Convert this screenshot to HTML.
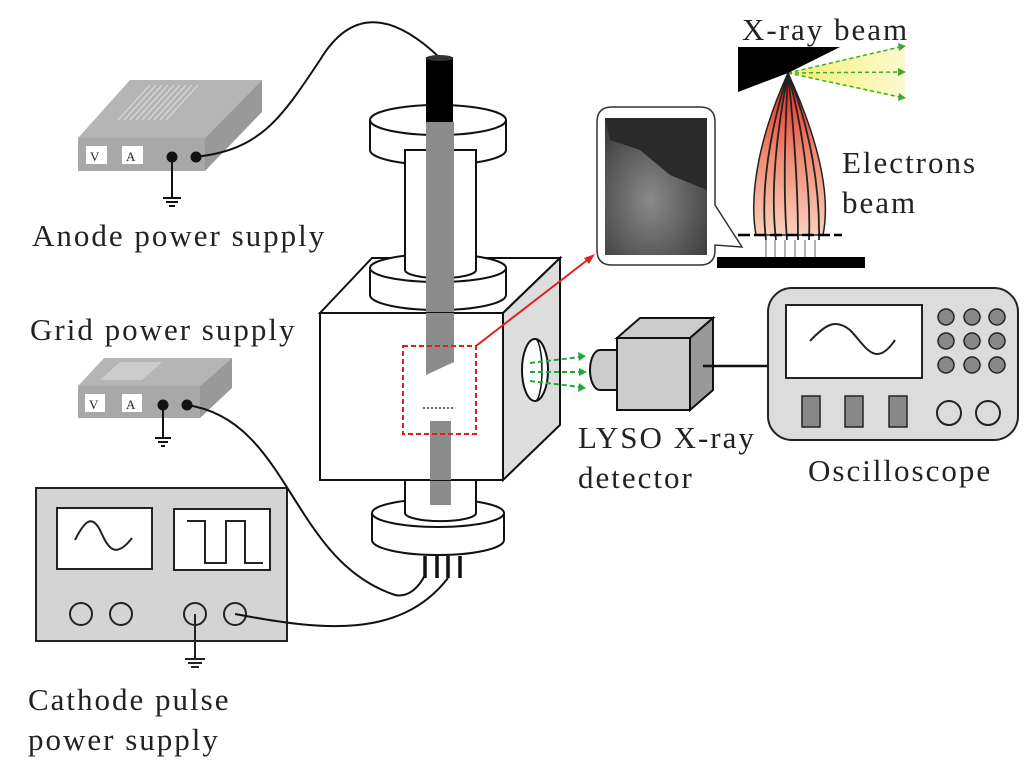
<!DOCTYPE html>
<html><head><meta charset="utf-8"><style>
html,body{margin:0;padding:0;background:#fff}
svg{display:block}
text{font-family:"Liberation Serif",serif;fill:#222}
.t{font-size:31px;letter-spacing:2px}
</style></head><body>
<svg width="1036" height="773" viewBox="0 0 1036 773" xmlns="http://www.w3.org/2000/svg">
<defs>
<linearGradient id="pl" x1="0" y1="0" x2="0" y2="1">
<stop offset="0" stop-color="#e0201a"/><stop offset="0.5" stop-color="#f08a70"/><stop offset="1" stop-color="#fbd0bd"/>
</linearGradient>
<linearGradient id="yf" x1="0" y1="0" x2="1" y2="0">
<stop offset="0" stop-color="#f4f070"/><stop offset="1" stop-color="#fbfad0"/>
</linearGradient>
<radialGradient id="sem" cx="0.45" cy="0.6" r="0.7">
<stop offset="0" stop-color="#8a8a8a"/><stop offset="0.6" stop-color="#5a5a5a"/><stop offset="1" stop-color="#3a3a3a"/>
</radialGradient>
</defs>

<!-- Anode supply -->
<polygon points="78,138 130,80 262,80 205,138" fill="#b5b5b5"/>
<g stroke="#ddd" stroke-width="1">
<line x1="118" y1="120" x2="150" y2="85"/><line x1="124" y1="120" x2="156" y2="85"/><line x1="130" y1="120" x2="162" y2="85"/><line x1="136" y1="120" x2="168" y2="85"/><line x1="142" y1="120" x2="174" y2="85"/><line x1="148" y1="120" x2="180" y2="85"/><line x1="154" y1="120" x2="186" y2="85"/><line x1="160" y1="120" x2="192" y2="85"/><line x1="166" y1="120" x2="198" y2="85"/>
</g>
<polygon points="205,138 262,80 262,112 205,171" fill="#999"/>
<rect x="78" y="138" width="127" height="33" fill="#a8a8a8"/>
<rect x="86" y="146" width="21" height="18" fill="#fff"/><text x="90" y="161" font-family="Liberation Sans" font-size="13" fill="#444">V</text>
<rect x="122" y="146" width="21" height="18" fill="#fff"/><text x="126" y="161" font-family="Liberation Sans" font-size="13" fill="#444">A</text>
<circle cx="172" cy="157" r="5.5" fill="#111"/><circle cx="196" cy="157" r="5.5" fill="#111"/>
<line x1="172" y1="157" x2="172" y2="197" stroke="#111" stroke-width="2"/>
<line x1="163" y1="198" x2="181" y2="198" stroke="#111" stroke-width="2"/><line x1="166" y1="202" x2="178" y2="202" stroke="#111" stroke-width="2"/><line x1="169" y1="206" x2="175" y2="206" stroke="#111" stroke-width="2"/>
<text class="t" x="32" y="246">Anode power supply</text>

<!-- Grid supply -->
<text class="t" x="30" y="340">Grid power supply</text>
<polygon points="78,386 104,358 232,358 200,386" fill="#b5b5b5"/>
<polygon points="100,380 120,362 162,362 142,380" fill="#ccc"/>
<polygon points="200,386 232,358 232,388 200,418" fill="#999"/>
<rect x="78" y="386" width="122" height="32" fill="#a8a8a8"/>
<rect x="85" y="394" width="20" height="18" fill="#fff"/><text x="89" y="409" font-family="Liberation Sans" font-size="13" fill="#444">V</text>
<rect x="122" y="394" width="20" height="18" fill="#fff"/><text x="126" y="409" font-family="Liberation Sans" font-size="13" fill="#444">A</text>
<circle cx="163" cy="405" r="5.5" fill="#111"/><circle cx="187" cy="405" r="5.5" fill="#111"/>
<line x1="163" y1="405" x2="163" y2="437" stroke="#111" stroke-width="2"/>
<line x1="155" y1="438" x2="171" y2="438" stroke="#111" stroke-width="2"/><line x1="158" y1="442" x2="168" y2="442" stroke="#111" stroke-width="2"/><line x1="161" y1="446" x2="165" y2="446" stroke="#111" stroke-width="2"/>

<!-- Cathode pulse supply -->
<rect x="36" y="488" width="251" height="153" fill="#d4d4d4" stroke="#222" stroke-width="2"/>
<rect x="57" y="508" width="95" height="61" fill="#fff" stroke="#222" stroke-width="2"/>
<path d="M75,540 C85,520 92,515 100,530 C108,548 115,560 132,538" fill="none" stroke="#222" stroke-width="2"/>
<rect x="174" y="509" width="96" height="61" fill="#fff" stroke="#222" stroke-width="2"/>
<path d="M187,521 L205,521 L205,563 L226,563 L226,521 L245,521 L245,563 L263,563" fill="none" stroke="#222" stroke-width="2"/>
<circle cx="81" cy="614" r="11" fill="none" stroke="#222" stroke-width="2"/>
<circle cx="121" cy="614" r="11" fill="none" stroke="#222" stroke-width="2"/>
<circle cx="195" cy="614" r="11" fill="none" stroke="#222" stroke-width="2"/>
<circle cx="235" cy="614" r="11" fill="none" stroke="#222" stroke-width="2"/>
<line x1="195" y1="614" x2="195" y2="658" stroke="#222" stroke-width="2"/>
<line x1="185" y1="659" x2="205" y2="659" stroke="#222" stroke-width="2"/><line x1="188" y1="663" x2="202" y2="663" stroke="#222" stroke-width="2"/><line x1="191" y1="667" x2="199" y2="667" stroke="#222" stroke-width="2"/>
<text class="t" x="28" y="710">Cathode pulse</text>
<text class="t" x="28" y="750">power supply</text>

<!-- wires -->
<path d="M195,157 C260,150 280,120 320,60 C350,10 390,10 440,58" fill="none" stroke="#111" stroke-width="2"/>
<path d="M187,405 C290,420 290,560 395,595 C410,598 420,585 425,575" fill="none" stroke="#111" stroke-width="2"/>
<path d="M235,614 C320,630 400,640 448,578" fill="none" stroke="#111" stroke-width="2"/>

<!-- Tube upper -->
<path d="M370,120 L370,150 A68,15 0 0 0 506,150 L506,120" fill="#fff" stroke="#111" stroke-width="2"/>
<ellipse cx="438" cy="120" rx="68" ry="15" fill="#fff" stroke="#111" stroke-width="2"/>
<rect x="405" y="150" width="71" height="118" fill="#fff" stroke="#111" stroke-width="2"/>
<rect x="426" y="57" width="27" height="66" fill="#000"/>
<ellipse cx="439.5" cy="58" rx="13.5" ry="3" fill="#333"/>
<rect x="426" y="122" width="28" height="200" fill="#8c8c8c"/>

<!-- Box -->
<polygon points="320,313 372,258 560,258 503,313" fill="#fff" stroke="#111" stroke-width="2"/>
<path d="M370,295 A68,15 0 0 0 506,295 L506,268 L370,268 Z" fill="#fff"/>
<path d="M370,268 L370,295 A68,15 0 0 0 506,295 L506,268" fill="none" stroke="#111" stroke-width="2"/>
<ellipse cx="438" cy="268" rx="68" ry="14" fill="#fff" stroke="#111" stroke-width="2"/>
<rect x="405" y="250" width="71" height="20" fill="#fff"/>
<line x1="405" y1="250" x2="405" y2="270" stroke="#111" stroke-width="2"/><line x1="476" y1="250" x2="476" y2="270" stroke="#111" stroke-width="2"/>
<path d="M405,270 A35,8 0 0 0 476,270" fill="none" stroke="#111" stroke-width="2"/>
<rect x="426" y="240" width="28" height="73" fill="#8c8c8c"/>
<polygon points="503,313 560,258 560,425 503,480" fill="#ddd" stroke="#111" stroke-width="2"/>
<rect x="320" y="313" width="183" height="167" fill="#fff" stroke="#111" stroke-width="2"/>
<polygon points="426,313 454,313 454,362 426,375" fill="#8c8c8c"/>
<rect x="430" y="421" width="21" height="59" fill="#8c8c8c"/>
<line x1="423" y1="408" x2="455" y2="408" stroke="#333" stroke-width="1.5" stroke-dasharray="2,2"/>
<ellipse cx="535" cy="370" rx="13" ry="31" fill="#fff" stroke="#111" stroke-width="2"/>
<path d="M535,339 A7,31 0 0 1 535,401" fill="none" stroke="#111" stroke-width="1.5"/>
<rect x="403" y="346" width="73" height="88" fill="none" stroke="#e02020" stroke-width="2" stroke-dasharray="5,3"/>
<line x1="476" y1="346" x2="590" y2="258" stroke="#e02020" stroke-width="2"/>
<polygon points="595,254 584,258 589,264" fill="#e02020"/>

<!-- Tube lower -->
<path d="M372,513 L372,540 A66,15 0 0 0 504,540 L504,513" fill="#fff" stroke="#111" stroke-width="2"/>
<ellipse cx="438" cy="513" rx="66" ry="14" fill="#fff" stroke="#111" stroke-width="2"/>
<path d="M405,481 L405,513 A35,8 0 0 0 476,513 L476,481" fill="#fff" stroke="#111" stroke-width="2"/>
<rect x="430" y="481" width="21" height="24" fill="#8c8c8c"/>
<g stroke="#111" stroke-width="3.5"><line x1="425" y1="556" x2="425" y2="578"/><line x1="437" y1="556" x2="437" y2="578"/><line x1="448" y1="556" x2="448" y2="578"/><line x1="460" y1="556" x2="460" y2="578"/></g>

<!-- green arrows -->
<g stroke="#1aaa40" stroke-width="2" stroke-dasharray="5,3" fill="none">
<line x1="530" y1="363" x2="580" y2="357"/><line x1="530" y1="372" x2="580" y2="372"/><line x1="530" y1="381" x2="580" y2="387"/>
</g>
<g fill="#1aaa40"><polygon points="586,356 578,352 579,361"/><polygon points="587,372 579,368 579,376"/><polygon points="586,388 579,383 578,392"/></g>

<!-- detector -->
<path d="M617,350 L600,350 A10,20 0 0 0 600,390 L617,390 Z" fill="#ccc" stroke="#111" stroke-width="2"/>
<polygon points="617,338 640,318 713,318 690,338" fill="#ccc" stroke="#111" stroke-width="2"/>
<polygon points="690,338 713,318 713,390 690,410" fill="#999" stroke="#111" stroke-width="2"/>
<rect x="617" y="338" width="73" height="72" fill="#ccc" stroke="#111" stroke-width="2"/>
<line x1="703" y1="366" x2="768" y2="366" stroke="#111" stroke-width="2.5"/>
<text class="t" x="578" y="448">LYSO X-ray</text>
<text class="t" x="578" y="488">detector</text>

<!-- oscilloscope -->
<rect x="768" y="288" width="250" height="152" rx="24" fill="#dcdcdc" stroke="#222" stroke-width="2"/>
<rect x="786" y="305" width="136" height="73" fill="#fff" stroke="#222" stroke-width="2"/>
<path d="M810,341 C825,325 835,318 850,330 C865,345 875,370 895,340" fill="none" stroke="#222" stroke-width="2"/>
<g fill="#888" stroke="#222" stroke-width="1.5">
<circle cx="946" cy="317" r="8"/><circle cx="972" cy="317" r="8"/><circle cx="997" cy="317" r="8"/>
<circle cx="946" cy="341" r="8"/><circle cx="972" cy="341" r="8"/><circle cx="997" cy="341" r="8"/>
<circle cx="946" cy="365" r="8"/><circle cx="972" cy="365" r="8"/><circle cx="997" cy="365" r="8"/>
<rect x="802" y="396" width="18" height="31"/><rect x="845" y="396" width="18" height="31"/><rect x="889" y="396" width="18" height="31"/>
</g>
<circle cx="949" cy="413" r="12" fill="none" stroke="#222" stroke-width="2"/>
<circle cx="988" cy="413" r="12" fill="none" stroke="#222" stroke-width="2"/>
<text class="t" x="808" y="481">Oscilloscope</text>

<!-- SEM inset -->
<path d="M612,107 L700,107 Q715,107 715,122 L715,205 L742,247 L715,245 L715,250 Q715,265 700,265 L612,265 Q597,265 597,250 L597,122 Q597,107 612,107 Z" fill="#fff" stroke="#333" stroke-width="1.5"/>
<rect x="605" y="118" width="102" height="137" fill="url(#sem)"/>
<polygon points="605,118 707,118 707,190 670,175 640,150 610,140 605,118" fill="#2a2a2a"/>

<!-- X-ray target & beam -->
<polygon points="788,73 905,45 905,100" fill="url(#yf)"/>
<g stroke="#3aaa30" stroke-width="1.5" stroke-dasharray="4,3" fill="none">
<line x1="788" y1="73" x2="900" y2="47"/><line x1="788" y1="73" x2="900" y2="72"/><line x1="788" y1="73" x2="900" y2="97"/>
</g>
<g fill="#3aaa30"><polygon points="906,46 898,43 899,51"/><polygon points="906,72 898,68 898,76"/><polygon points="906,98 899,93 898,101"/></g>
<polygon points="738,47 840,47 788,73 738,92" fill="#000"/>
<path d="M788,73 C762,130 748,190 756,235 L823,235 C832,190 814,130 788,73 Z" fill="url(#pl)" stroke="#222" stroke-width="1.5"/>
<g stroke="#222" stroke-width="1.8" fill="none">
<path d="M788,73 C770,130 760,190 766,240"/>
<path d="M788,73 C777,130 770,190 776,240"/>
<path d="M788,73 C785,130 783,190 787,240"/>
<path d="M788,73 C794,130 798,190 798,240"/>
<path d="M788,73 C803,130 811,190 809,240"/>
<path d="M788,73 C811,130 820,190 819,240"/>
</g>
<line x1="738" y1="235" x2="842" y2="235" stroke="#000" stroke-width="2.5" stroke-dasharray="12,4"/>
<g stroke="#666" stroke-width="1"><line x1="766" y1="240" x2="766" y2="257"/><line x1="775" y1="240" x2="775" y2="257"/><line x1="785" y1="240" x2="785" y2="257"/><line x1="795" y1="240" x2="795" y2="257"/><line x1="805" y1="240" x2="805" y2="257"/><line x1="815" y1="240" x2="815" y2="257"/></g>
<rect x="717" y="257" width="148" height="11" fill="#000"/>
<text class="t" x="742" y="40">X-ray beam</text>
<text class="t" x="842" y="173">Electrons</text>
<text class="t" x="842" y="213">beam</text>
</svg>
</body></html>
